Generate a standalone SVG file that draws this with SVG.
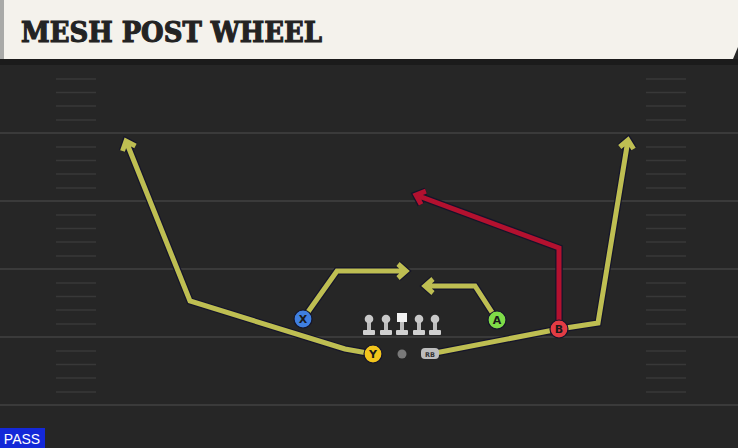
<svg xmlns="http://www.w3.org/2000/svg" xmlns:xlink="http://www.w3.org/1999/xlink" width="738" height="448" viewBox="0 0 738 448">
<style>
.yard{stroke:#3a3a3a;stroke-width:2}
.hash{stroke:#383838;stroke-width:1.6;fill:none}
.out{fill:none;stroke:#15152a;stroke-width:7.5;stroke-linejoin:miter;stroke-linecap:butt}
.ylw{fill:none;stroke:#bebe52;stroke-width:5;stroke-linejoin:miter;stroke-linecap:butt}
.red{fill:none;stroke:#b3112f;stroke-width:5;stroke-linejoin:miter;stroke-linecap:butt}
.plbl{font-family:"DejaVu Sans",sans-serif;font-size:11px;font-weight:bold;fill:#1a1a1a;text-anchor:middle}
.pc{stroke:#15152a;stroke-width:1.2}
</style>
<defs>
<path id="rY" d="M373,354 L345,349 L190,301 L126,141 M122.5,151 L126,141 L135.5,146"/>
<path id="rRB" d="M430,354 L559,329 L598,323 L628,140 M619.8,147 L628,140 L633.6,149"/>
<path id="rX" d="M303,319 L337,271 L406,271 M398,264 L406,271 L398,278"/>
<path id="rA" d="M497,320 L475,286 L425,286 M433,279 L425,286 L433,293"/>
<path id="rB" d="M559,329 L559,248 L416,195 M425.9,191.2 L416,195 L421.1,204.4"/>
<g id="lm">
<rect x="-2" y="-10" width="4" height="10" fill="#bdbdbd"/>
<circle cx="0" cy="-11" r="4.3" fill="#c9c9c9"/>
<rect x="-6" y="0" width="12" height="5" rx="1" fill="#d0d0d0"/>
</g>
</defs>
<rect x="0" y="0" width="738" height="448" fill="#262626"/>
<rect x="0" y="59" width="738" height="6" fill="#1b1b1b"/>
<g id="field">
<line class="yard" x1="0" y1="133" x2="738" y2="133"/>
<line class="yard" x1="0" y1="201" x2="738" y2="201"/>
<line class="yard" x1="0" y1="269" x2="738" y2="269"/>
<line class="yard" x1="0" y1="337" x2="738" y2="337"/>
<line class="yard" x1="0" y1="405" x2="738" y2="405"/>
<path class="hash" d="M56,79H96M56,92.5H96M56,106H96M56,120H96M56,147H96M56,160.5H96M56,174H96M56,188H96M56,215H96M56,228.5H96M56,242H96M56,256H96M56,283H96M56,296.5H96M56,310H96M56,324H96M56,351H96M56,364.5H96M56,378H96M56,392H96"/>
<path class="hash" d="M646,79H686M646,92.5H686M646,106H686M646,120H686M646,147H686M646,160.5H686M646,174H686M646,188H686M646,215H686M646,228.5H686M646,242H686M646,256H686M646,283H686M646,296.5H686M646,310H686M646,324H686M646,351H686M646,364.5H686M646,378H686M646,392H686"/>
</g>
<g id="header">
<path d="M0,0 H738 V47 L733,59 H0 Z" fill="#f4f2ec"/>
<rect x="0" y="0" width="4" height="59" fill="#a9aaa8"/>
<text x="21" y="42" font-family="'DejaVu Serif',serif" font-weight="bold" font-size="27" fill="#232323" stroke="#232323" stroke-width="1.1" textLength="301" lengthAdjust="spacingAndGlyphs">MESH POST WHEEL</text>
</g>
<g id="connectors">
<use xlink:href="#rY" class="out"/><use xlink:href="#rY" class="ylw"/>
<use xlink:href="#rRB" class="out"/><use xlink:href="#rRB" class="ylw"/>
<use xlink:href="#rX" class="out"/><use xlink:href="#rX" class="ylw"/>
<use xlink:href="#rA" class="out"/><use xlink:href="#rA" class="ylw"/>
<use xlink:href="#rB" class="out"/><use xlink:href="#rB" class="red"/>
</g>
<g id="line">
<use xlink:href="#lm" x="369" y="330"/>
<use xlink:href="#lm" x="386" y="330"/>
<g id="center"><rect x="400" y="320" width="4" height="10" fill="#bdbdbd"/><rect x="397" y="313" width="10" height="9" fill="#f2f2f2"/><rect x="396" y="330" width="12" height="5" rx="1" fill="#d0d0d0"/></g>
<use xlink:href="#lm" x="419" y="330"/>
<use xlink:href="#lm" x="435" y="330"/>
</g>
<g id="QB"><circle cx="402" cy="354" r="4.5" fill="#7a7a7a"/></g>
<g id="RB"><rect x="421" y="348" width="18" height="11" rx="4" fill="#bdbdbd"/><text x="430" y="356.5" font-family="'DejaVu Sans',sans-serif" font-size="6.5" font-weight="bold" fill="#333" text-anchor="middle">RB</text></g>
<g id="X"><circle class="pc" cx="303" cy="319" r="9" fill="#3f7fe0"/><text class="plbl" x="303" y="323">X</text></g>
<g id="Y"><circle class="pc" cx="373" cy="354" r="9" fill="#f2c51c"/><text class="plbl" x="373" y="358">Y</text></g>
<g id="A"><circle class="pc" cx="497" cy="320" r="9" fill="#7fdc48"/><text class="plbl" x="497" y="324">A</text></g>
<g id="B"><circle class="pc" cx="559" cy="329" r="9" fill="#e23c44"/><text class="plbl" x="559" y="333">B</text></g>
<g id="pass"><rect x="0" y="428" width="45" height="20" fill="#1428d8"/><text x="22" y="444" font-family="'Liberation Sans',sans-serif" font-size="14" fill="#ffffff" text-anchor="middle">PASS</text></g>
</svg>
